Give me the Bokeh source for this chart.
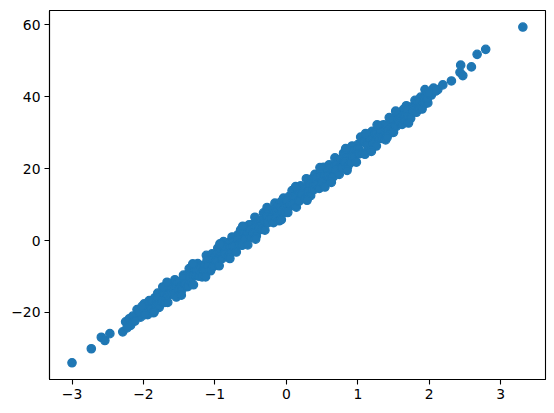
from bokeh.plotting import figure
from bokeh.models import ColumnDataSource, Range1d, FixedTicker, CustomJSTickFormatter
from bokeh.embed import file_html
from bokeh.resources import INLINE

# ---- data (estimated) ----
x_band_upper = [-1.96, -1.92, -1.88, -1.84, -1.80, -1.76, -1.72, -1.68, -1.64, -1.60,
                -1.56, -1.52, -1.48, -1.44, -1.40, -1.36, -1.32, -1.28, -1.24, -1.20,
                -1.16, -1.12, -1.08, -1.04, -1.00, -0.96, -0.92, -0.88, -0.84, -0.80,
                -0.76, -0.72, -0.68, -0.64, -0.60, -0.56, -0.52, -0.48, -0.44, -0.40,
                -0.36, -0.32, -0.28, -0.24, -0.20, -0.16, -0.12, -0.08, -0.04, 0.00,
                0.04, 0.08, 0.12, 0.16, 0.20, 0.24, 0.28, 0.32, 0.36, 0.40,
                0.44, 0.48, 0.52, 0.56, 0.60, 0.64, 0.68, 0.72, 0.76, 0.80,
                0.84, 0.88, 0.92, 0.96, 1.00, 1.04, 1.08, 1.12, 1.16, 1.20,
                1.24, 1.28, 1.32, 1.36, 1.40, 1.44, 1.48, 1.52, 1.56, 1.60,
                1.64, 1.68, 1.72, 1.76, 1.80, 1.84, 1.88, 1.92, 1.96]
y_band_upper = [-18.2, -16.7, -17.6, -15.9, -14.6, -15.5, -14.3, -13.2, -14.2, -12.2,
                -10.9, -11.7, -11.5, -9.6, -9.6, -7.8, -9.0, -7.6, -6.4, -7.0,
                -6.9, -4.1, -4.9, -3.7, -4.4, -2.1, -2.1, -0.3, -1.7, -0.5,
                1.0, -0.1, 1.6, 3.0, 2.2, 2.0, 4.4, 4.4, 6.5, 5.0,
                5.4, 7.7, 7.2, 8.4, 7.6, 10.4, 9.5, 10.7, 11.8, 10.9,
                12.3, 13.9, 12.3, 13.9, 15.2, 14.7, 17.2, 15.6, 17.2, 18.4,
                17.8, 17.8, 20.4, 20.0, 21.1, 20.5, 23.0, 22.2, 22.1, 24.3,
                24.5, 24.2, 26.3, 24.9, 26.7, 28.8, 27.5, 28.8, 28.2, 30.4,
                30.1, 29.8, 32.0, 32.2, 32.1, 34.2, 33.1, 34.4, 35.5, 34.7,
                36.5, 37.5, 37.0, 37.2, 39.0, 39.0, 39.9, 39.7, 40.9]

x_band_mid = [-1.95, -1.91, -1.87, -1.83, -1.79, -1.75, -1.71, -1.67, -1.63, -1.59,
              -1.55, -1.51, -1.47, -1.43, -1.39, -1.35, -1.31, -1.27, -1.23, -1.19,
              -1.15, -1.11, -1.07, -1.03, -0.99, -0.95, -0.91, -0.87, -0.83, -0.79,
              -0.75, -0.71, -0.67, -0.63, -0.59, -0.55, -0.51, -0.47, -0.43, -0.39,
              -0.35, -0.31, -0.27, -0.23, -0.19, -0.15, -0.11, -0.07, -0.03, 0.01,
              0.05, 0.09, 0.13, 0.17, 0.21, 0.25, 0.29, 0.33, 0.37, 0.41,
              0.45, 0.49, 0.53, 0.57, 0.61, 0.65, 0.69, 0.73, 0.77, 0.81,
              0.85, 0.89, 0.93, 0.97, 1.01, 1.05, 1.09, 1.13, 1.17, 1.21,
              1.25, 1.29, 1.33, 1.37, 1.41, 1.45, 1.49, 1.53, 1.57, 1.61,
              1.65, 1.69, 1.73, 1.77, 1.81, 1.85, 1.89, 1.93, 1.97]
y_band_mid = [-18.95, -19.45, -16.95, -17.65, -16.15, -17.45, -15.15, -15.55, -13.15, -14.75,
              -13.15, -11.75, -12.65, -10.25, -11.95, -9.85, -9.95, -8.05, -9.75, -7.25,
              -7.35, -5.45, -6.75, -5.25, -5.85, -3.45, -4.05, -1.75, -3.65, -1.85,
              -0.35, -1.25, 0.45, -0.55, 2.25, 1.55, 2.95, 2.05, 3.85, 2.85,
              5.75, 4.95, 6.65, 5.75, 8.35, 7.85, 7.35, 9.35, 9.05, 11.05,
              9.55, 11.95, 11.85, 13.85, 12.45, 13.95, 13.25, 15.75, 15.25, 17.25,
              15.85, 17.85, 17.95, 17.35, 20.15, 19.35, 21.05, 20.15, 22.75, 21.95,
              23.05, 22.35, 24.85, 24.05, 25.55, 24.45, 27.45, 26.85, 28.15, 27.45,
              29.75, 29.05, 30.15, 29.45, 31.95, 31.15, 33.65, 32.05, 33.65, 34.65,
              34.35, 36.25, 34.95, 36.85, 36.95, 38.45, 37.55, 39.35, 39.05]

x_band_lower = [-1.94, -1.90, -1.86, -1.82, -1.78, -1.74, -1.70, -1.66, -1.62, -1.58,
                -1.54, -1.50, -1.46, -1.42, -1.38, -1.34, -1.30, -1.26, -1.22, -1.18,
                -1.14, -1.10, -1.06, -1.02, -0.98, -0.94, -0.90, -0.86, -0.82, -0.78,
                -0.74, -0.70, -0.66, -0.62, -0.58, -0.54, -0.50, -0.46, -0.42, -0.38,
                -0.34, -0.30, -0.26, -0.22, -0.18, -0.14, -0.10, -0.06, -0.02, 0.02,
                0.06, 0.10, 0.14, 0.18, 0.22, 0.26, 0.30, 0.34, 0.38, 0.42,
                0.46, 0.50, 0.54, 0.58, 0.62, 0.66, 0.70, 0.74, 0.78, 0.82,
                0.86, 0.90, 0.94, 0.98, 1.02, 1.06, 1.10, 1.14, 1.18, 1.22,
                1.26, 1.30, 1.34, 1.38, 1.42, 1.46, 1.50, 1.54, 1.58, 1.62,
                1.66, 1.70, 1.74, 1.78, 1.82, 1.86, 1.90, 1.94, 1.98]
y_band_lower = [-20.6, -19.1, -20.1, -18.4, -18.6, -16.9, -17.2, -17.2, -14.8, -15.0,
                -15.7, -13.5, -13.7, -12.0, -12.8, -11.5, -12.3, -9.8, -9.9, -10.1,
                -8.3, -7.1, -8.4, -7.2, -5.7, -7.0, -5.0, -3.7, -4.5, -3.4,
                -1.6, -3.2, -1.2, -1.3, 0.4, -1.2, 0.9, 2.0, 1.3, 3.6,
                3.1, 2.9, 4.9, 6.1, 5.0, 6.4, 5.5, 8.1, 7.8, 7.8,
                10.1, 10.1, 9.3, 11.0, 12.8, 11.7, 13.4, 12.5, 14.1, 15.4,
                14.5, 16.2, 14.9, 18.0, 17.4, 17.8, 19.5, 18.4, 20.2, 21.7,
                20.6, 21.7, 23.2, 21.8, 24.1, 24.3, 24.0, 26.3, 25.7, 26.9,
                26.3, 28.4, 28.4, 28.5, 30.6, 30.0, 30.1, 31.8, 32.8, 32.3,
                33.4, 34.4, 34.0, 35.9, 35.7, 36.6, 36.6, 38.1, 38.3]

x_band_edge = [-1.73, -1.31, -0.93, -0.61, -0.27, 0.13, 0.47, 0.83, 1.11, 1.53,
               -1.47, -1.13, -0.79, -0.43, -0.07, 0.29, 0.63, 0.85, 1.19, 1.39, 1.71]
y_band_edge = [-12.9, -6.5, -0.9, 4.0, 9.2, 15.0, 20.3, 25.6, 29.8, 36.0,
               -15.2, -10.1, -5.0, 0.4, 5.8, 11.2, 16.2, 19.5, 24.8, 28.0, 32.7]

x_tail_low = [-3.00, -2.73, -2.59, -2.54, -2.47, -2.29, -2.25, -2.20, -2.18,
              -2.09, -2.08, -2.04, -2.01, -1.99, -1.85, -1.67,
              -2.23, -2.15, -2.12, -2.06, -2.02, -1.98]
y_tail_low = [-34.0, -30.1, -26.9, -27.8, -25.9, -25.4, -22.6, -21.8, -23.6,
              -19.2, -20.5, -21.3, -19.5, -17.6, -19.9, -11.6,
              -24.3, -21.0, -22.4, -19.9, -18.3, -20.6]

x_tail_high = [1.27, 1.41, 1.94, 1.97, 2.03, 2.06, 2.12, 2.19, 2.31, 2.43,
               2.47, 2.44, 2.59, 2.67, 2.79, 3.31, 1.99, 2.09]
y_tail_high = [32.2, 28.7, 42.0, 39.6, 40.5, 42.4, 42.0, 43.3, 44.4, 46.8,
               45.9, 48.8, 48.3, 51.8, 53.2, 59.4, 41.0, 41.6]

x_ticks = [-3, -2, -1, 0, 1, 2, 3]
y_ticks = [-20, 0, 20, 40, 60]

xs = x_band_upper + x_band_mid + x_band_lower + x_band_edge + x_tail_low + x_tail_high
ys = y_band_upper + y_band_mid + y_band_lower + y_band_edge + y_tail_low + y_tail_high
source = ColumnDataSource(data=dict(x=xs, y=ys))

p = figure(frame_width=496, frame_height=369,
           min_border_left=49, min_border_right=9, min_border_top=10, min_border_bottom=34,
           x_range=Range1d(-3.315, 3.627), y_range=Range1d(-38.65, 64.0),
           output_backend="svg", toolbar_location=None,
           background_fill_color="white", border_fill_color="white")

p.scatter("x", "y", source=source, size=8.33, fill_color="#1f77b4",
          line_color="#1f77b4", line_width=1.3)

p.xgrid.visible = False
p.ygrid.visible = False
p.outline_line_color = "black"
p.outline_line_width = 1.1
p.outline_line_alpha = 1.0

fmt_code = "return tick < 0 ? '\u2212' + Math.abs(tick) : '' + tick;"
for ax, ticks in ((p.xaxis[0], x_ticks), (p.yaxis[0], y_ticks)):
    ax.ticker = FixedTicker(ticks=ticks)
    ax.formatter = CustomJSTickFormatter(code=fmt_code)
    ax.minor_tick_line_color = None
    ax.major_tick_in = 0
    ax.major_tick_out = 5
    ax.major_tick_line_color = "black"
    ax.major_tick_line_width = 1.1
    ax.axis_line_color = "black"
    ax.axis_line_width = 1.1
    ax.major_label_text_font = "DejaVu Sans"
    ax.major_label_text_font_size = "13.9px"
    ax.major_label_text_color = "black"
    ax.major_label_standoff = 4

open("out.html", "w").write(file_html(p, INLINE))
